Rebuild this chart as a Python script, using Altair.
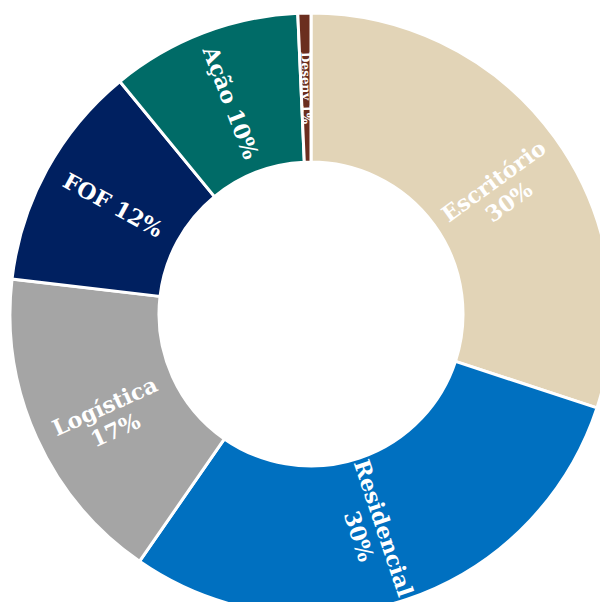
import altair as alt
import pandas as pd

categories = ["Escritório", "Residencial", "Logística", "FOF", "Ação", "Desenv"]
values = [30.05, 29.6, 17.2, 12.2, 10.25, 0.7]
labels = ["Escritório\n30%", "Residencial\n30%", "Logística\n17%", "FOF 12%", "Ação 10%", "Desenv 1%"]
colors = ["#E2D4B7", "#0070C0", "#A5A5A5", "#002060", "#006B67", "#6B2E1F"]
label_sizes = [22, 22, 22, 22, 22, 12]

total = sum(values)
rows = []
cum = 0.0
for i, (c, v, l, s) in enumerate(zip(categories, values, labels, label_sizes)):
    mid = (cum + v / 2) / total * 360
    cum += v
    ang = mid - 90 if mid < 180 else mid - 270
    rows.append({"idx": i, "cat": c, "value": v, "label": l, "ang": ang % 360, "size": s})
df = pd.DataFrame(rows)

base = alt.Chart(df).encode(
    theta=alt.Theta("value:Q", stack=True),
    order=alt.Order("idx:Q"),
    x=alt.value(303),
    y=alt.value(306),
)

arcs = base.mark_arc(outerRadius=301, innerRadius=152, stroke="white", strokeWidth=3).encode(
    color=alt.Color("cat:N", scale=alt.Scale(domain=categories, range=colors), legend=None)
)

text = base.mark_text(radius=226, lineBreak="\n", font="DejaVu Serif", fontWeight="bold",
                      color="white", align="center", baseline="middle", lineHeight=26).encode(
    text="label:N",
    angle=alt.Angle("ang:Q", scale=None),
    size=alt.Size("size:Q", scale=None),
)

chart = (arcs + text).properties(
    width=592, height=594, padding=0, autosize=alt.AutoSizeParams(type="none")
).configure_view(stroke=None)
chart.save("out.html", embed_options={"renderer": "svg", "actions": False})
